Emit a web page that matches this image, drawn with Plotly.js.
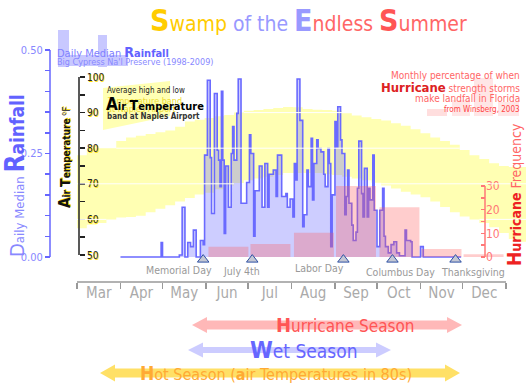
<!DOCTYPE html>
<html><head><meta charset="utf-8">
<script src="https://cdn.plot.ly/plotly-3.0.1.min.js"></script>
<style>html,body{margin:0;padding:0;background:#fff}#chart{width:526px;height:386px}</style>
</head><body><div id="chart"></div>
<script>
// ---------------- DATA ----------------
const monthNames = ['Mar','Apr','May','Jun','Jul','Aug','Sep','Oct','Nov','Dec'];
const monthStarts = ['2009-03-01','2009-04-01','2009-05-01','2009-06-01','2009-07-01','2009-08-01','2009-09-01','2009-10-01','2009-11-01','2009-12-01','2010-01-01'];

const tempDates = ['2009-03-01','2009-03-08','2009-03-15','2009-03-22','2009-03-29','2009-04-05','2009-04-12','2009-04-19','2009-04-26','2009-05-03','2009-05-10','2009-05-17','2009-05-24','2009-05-31','2009-06-07','2009-06-14','2009-06-21','2009-06-28','2009-07-05','2009-07-12','2009-07-19','2009-07-26','2009-08-02','2009-08-09','2009-08-16','2009-08-23','2009-08-30','2009-09-06','2009-09-13','2009-09-20','2009-09-27','2009-10-04','2009-10-11','2009-10-18','2009-10-25','2009-11-01','2009-11-08','2009-11-15','2009-11-22','2009-11-29','2009-12-06','2009-12-13','2009-12-20','2009-12-27','2010-01-03','2010-01-10','2010-01-17'];
const tempHigh = [78,80,80,80,82, 83,83.5,84,84.5, 85,86,87.5,88,88.5, 89,89.3,90,90.5, 90.7,91,91.3,91.6, 91.5,91,90.8,90.7,90.5, 89.8,89.2,88.7,88.2, 87.8,87,86.3,85.3, 84.2,83,82,81,79.5, 78,77,75.8,75, 74.7,74.7,74.7];
const tempLow  = [57.5,58.5,59,60,60.5, 60.7,61,62,63, 64,65,66,67,67.5, 68.5,69.5,70.2,71, 71.5,72,72.5,73, 73,73,73,72.7,72.5, 72,71.5,71,70.3, 69.5,68.7,67.8,67, 66.2,65,63.5,62,60.8, 60,59,57.8,56.2, 54.5,53.7,53.7];

const rainDates = ['2009-04-01','2009-04-30','2009-05-01','2009-05-13','2009-05-15','2009-05-17','2009-05-19','2009-05-21','2009-05-23','2009-05-25','2009-05-28','2009-05-30','2009-05-31','2009-06-02','2009-06-04','2009-06-05','2009-06-07','2009-06-09','2009-06-10','2009-06-11','2009-06-12','2009-06-13','2009-06-14','2009-06-15','2009-06-17','2009-06-19','2009-06-20','2009-06-21','2009-06-23','2009-06-24','2009-06-26','2009-06-30','2009-07-02','2009-07-03','2009-07-05','2009-07-06','2009-07-09','2009-07-11','2009-07-13','2009-07-15','2009-07-16','2009-07-19','2009-07-21','2009-07-22','2009-07-25','2009-07-28','2009-07-29','2009-07-31','2009-08-02','2009-08-03','2009-08-04','2009-08-05','2009-08-07','2009-08-09','2009-08-10','2009-08-12','2009-08-13','2009-08-15','2009-08-16','2009-08-17','2009-08-19','2009-08-20','2009-08-22','2009-08-24','2009-08-25','2009-08-27','2009-08-28','2009-08-29','2009-08-30','2009-09-01','2009-09-02','2009-09-03','2009-09-05','2009-09-06','2009-09-08','2009-09-09','2009-09-10','2009-09-11','2009-09-13','2009-09-14','2009-09-16','2009-09-17','2009-09-18','2009-09-20','2009-09-21','2009-09-22','2009-09-24','2009-09-25','2009-09-26','2009-09-28','2009-09-29','2009-10-01','2009-10-03','2009-10-05','2009-10-06','2009-10-07','2009-10-09','2009-10-11','2009-10-13','2009-10-15','2009-10-17','2009-10-21','2009-10-22','2009-10-25','2009-10-26','2009-11-01','2009-11-03','2009-11-30'];
const rainValues = [0,0.035,0,0.005,0.12,0,0.035,0.025,0.065,0,0.04,0.03,0.246,0.427,0.24,0.105,0.395,0.258,0.234,0.17,0.40,0.234,0.057,0.22,0.12,0.25,0.315,0.234,0.347,0.43,0.13,0.18,0.295,0.25,0.05,0.16,0.22,0.12,0.226,0.12,0.2,0.21,0.146,0.246,0.146,0.153,0.12,0.14,0.097,0.226,0.186,0.43,0.33,0.073,0.102,0.21,0.17,0.287,0.138,0.226,0.283,0.262,0.254,0.2,0.17,0.262,0.226,0.025,0.15,0.327,0.266,0.363,0.283,0.25,0.102,0.146,0.21,0.13,0.077,0.04,0.06,0.166,0.28,0.153,0.097,0.214,0.097,0.166,0.138,0.246,0.113,0.025,0.113,0.166,0.05,0.025,0.01,0.03,0.037,0.01,0.003,0.065,0.04,0.037,0,0.025,0,0];

const hurricaneMonths = ['2009-06-17','2009-07-17','2009-08-17','2009-09-16','2009-10-17','2009-11-16','2009-12-16'];
const hurricanePct = [4.3,5.5,10.2,30,21,3.4,1.2];

const holidayNames = ['Memorial Day','July 4th','Labor Day','Columbus Day','Thanksgiving'];
const holidayDates = ['2009-05-30','2009-07-04','2009-09-07','2009-10-12','2009-11-26'];

const rainTicks = [0,0.05,0.1,0.15,0.2,0.25,0.3,0.35,0.4,0.45,0.5];
const rainTickText = ['0.00',' ',' ',' ',' ','0.25',' ',' ',' ',' ','0.50'];
const tempTicks = [50,55,60,65,70,75,80,85,90,95,100];
const tempTickText = ['50',' ','60',' ','70',' ','80',' ','90',' ','100'];
const hurrTicks = [0,5,10,15,20,25,30];
const hurrTickText = ['0',' ','10',' ','20',' ','30'];

// ---------------- LAYOUT HELPERS ----------------
const FONT = '"DejaVu Sans Condensed", "Liberation Sans", Arial, sans-serif';
const W = 526, H = 386;
const px = x => x / W, py = y => 1 - y / H;
const MS = 86400000, BASE = Date.UTC(2009, 2, 1);
const iso = ms => new Date(ms).toISOString().replace('T', ' ').replace('Z', '');
const xRange = [iso(BASE - 54.92 * MS), iso(BASE + 320.26 * MS)];
const monthMids = monthStarts.slice(0, -1).map((s, i) => {
  const a = Date.parse(s), b = Date.parse(monthStarts[i + 1]);
  return iso((a + b) / 2);
});

function ann(x, y, text, size, color, opts) {
  return Object.assign({xref: 'paper', yref: 'paper', x: px(x), y: py(y), text: text,
    showarrow: false, xanchor: 'center', yanchor: 'middle',
    font: {family: FONT, size: size, color: color}}, opts || {});
}
function pathShape(pts, color, layer) {
  const d = 'M ' + pts.map(p => px(p[0]) + ',' + py(p[1])).join(' L ') + ' Z';
  return {type: 'path', xref: 'paper', yref: 'paper', path: d, fillcolor: color, line: {width: 0}, layer: layer || 'above'};
}
function rect(x0, y0, x1, y1, color, layer) {
  return {type: 'rect', xref: 'paper', yref: 'paper', x0: px(x0), x1: px(x1), y0: py(y0), y1: py(y1),
    fillcolor: color, line: {width: 0}, layer: layer || 'below'};
}
function arrow(xl, xr, yc, sh, hh, hl, color) {
  const pts = [[xl, yc], [xl + hl, yc - hh / 2], [xl + hl, yc - sh / 2], [xr - hl, yc - sh / 2], [xr - hl, yc - hh / 2], [xr, yc],
       [xr - hl, yc + hh / 2], [xr - hl, yc + sh / 2], [xl + hl, yc + sh / 2], [xl + hl, yc + hh / 2]];
  return pathShape(pts, color, 'above');
}

// ---------------- TRACES ----------------
const traces = [
  {x: tempDates, y: tempLow, xaxis: 'x', yaxis: 'y', mode: 'lines', line: {width: 0, shape: 'hv', color: 'rgba(0,0,0,0)'}, hoverinfo: 'skip'},
  {x: tempDates, y: tempHigh, xaxis: 'x', yaxis: 'y', mode: 'lines', line: {width: 0, shape: 'hv', color: 'rgba(0,0,0,0)'},
   fill: 'tonexty', fillcolor: '#ffffb3', hoverinfo: 'skip'},
  {x: rainDates, y: rainValues, xaxis: 'x', yaxis: 'y2', mode: 'lines', line: {shape: 'hv', color: '#6a6aff', width: 1.6},
   fill: 'tozeroy', fillcolor: 'rgba(102,102,255,0.33)'},
  {type: 'bar', x: hurricaneMonths, y: hurricanePct, xaxis: 'x', yaxis: 'y3', width: 28.5 * MS,
   marker: {color: 'rgba(255,90,90,0.3)', line: {width: 0}}},
  {x: holidayDates, y: holidayDates.map(() => -1.1), xaxis: 'x', yaxis: 'y3', mode: 'markers',
   marker: {symbol: 'triangle-up', size: 10, color: '#c4c8d4', line: {color: '#2d4fa3', width: 1}}}
];

// ---------------- SHAPES ----------------
const shapes = [];
shapes.push(rect(58, 30, 69, 67, '#c8c8ff'));
shapes.push(rect(98, 35, 107, 67, '#c8c8ff'));
shapes.push(rect(58, 55, 128, 66, '#c8c8ff'));
shapes.push(rect(427, 109, 447, 116, '#ffdede'));
shapes.push(rect(452, 100, 470, 116, '#ffe6e6'));
shapes.push(rect(474, 78, 493, 116, '#ffe6e6'));
shapes.push(rect(498, 102, 519, 116, '#ffe6e6'));
shapes.push(pathShape([[103, 88], [170, 81], [170, 116], [103, 130]], '#ffffb3', 'below'));
[60, 70, 80, 90].forEach(T => {
  let start = null;
  for (let i = 0; i < tempDates.length; i++) {
    const inside = tempLow[i] < T && tempHigh[i] > T && i < tempDates.length - 1;
    if (inside && start === null) start = i;
    if (!inside && start !== null) {
      shapes.push({type: 'line', xref: 'x', yref: 'y', x0: tempDates[start], x1: tempDates[i], y0: T, y1: T,
        line: {color: '#ffffff', width: 1}, layer: 'above'});
      start = null;
    }
  }
});
shapes.push({type: 'line', xref: 'paper', yref: 'y2', x0: px(50), x1: px(50), y0: 0, y1: 0.5, line: {color: '#6666ff', width: 1.5}});
shapes.push({type: 'line', xref: 'paper', yref: 'y', x0: px(79), x1: px(79), y0: 50, y1: 100, line: {color: '#222', width: 1.5}});
shapes.push({type: 'line', xref: 'paper', yref: 'y3', x0: px(485), x1: px(485), y0: 0, y1: 30, line: {color: '#ff7777', width: 1.5}});
shapes.push({type: 'line', xref: 'x', yref: 'paper', x0: monthStarts[0], x1: monthStarts[monthStarts.length - 1], y0: py(282), y1: py(282), line: {color: '#999', width: 1.5}});
shapes.push(arrow(192, 462, 325, 9, 16, 15, '#ffb8b8'));
shapes.push(arrow(188, 391, 350, 6, 15, 15, '#ccccff'));
shapes.push(arrow(100, 460, 373, 9, 17, 15, '#ffe066'));

// ---------------- ANNOTATIONS ----------------
const annotations = [];
annotations.push(ann(308.5, 21,
  '<span style="font-size:30px;color:#ffcc00"><b>S</b></span><span style="color:#ffcc00">wamp</span>' +
  '<span style="color:#9999ff"> of the </span><span style="font-size:30px;color:#9999ff"><b>E</b></span>' +
  '<span style="color:#ff6666">ndless </span><span style="font-size:30px;color:#ff5555"><b>S</b></span>' +
  '<span style="color:#ff6666">ummer</span>', 21, '#ff6666'));
annotations.push(ann(55, 52, 'Daily Median <span style="font-size:14px;color:#6262ff"><b>R</b></span><span style="color:#6262ff"><b>ainfall</b></span>', 11, '#8080ff', {xanchor: 'left'}));
annotations.push(ann(55, 62, "Big Cypress Na'l Preserve (1998-2009)", 9, '#8888ff', {xanchor: 'left'}));
annotations.push(ann(105, 101, 'Temperature band', 9, '#eedd33', {xanchor: 'left'}));
annotations.push(ann(105, 109, 'at Naples Airport', 9, '#eedd33', {xanchor: 'left'}));
annotations.push(ann(105, 91, 'Average high and low', 8, '#222', {xanchor: 'left'}));
annotations.push(ann(104, 104, '<span style="font-size:17px"><b>A</b></span><b>ir </b><span style="font-size:14px"><b>T</b></span><b>emperature</b>', 11, '#000', {xanchor: 'left'}));
annotations.push(ann(105, 117, '<b>band at Naples Airport</b>', 8, '#333', {xanchor: 'left'}));
annotations.push(ann(522, 75, 'Monthly percentage of when', 10, '#ff6666', {xanchor: 'right'}));
annotations.push(ann(522, 87, '<span style="font-size:13px;color:#dd2222"><b>Hurricane</b></span> strength storms', 10, '#ff6666', {xanchor: 'right'}));
annotations.push(ann(522, 98, 'make landfall in Florida', 10, '#ff6666', {xanchor: 'right'}));
annotations.push(ann(522, 109, 'from Winsberg, 2003', 8, '#ff4444', {xanchor: 'right'}));
annotations.push(ann(15, 176, '<span style="font-size:20px">D</span>aily Median <span style="font-size:26px;color:#6262ff"><b>R</b></span><span style="font-size:19px;color:#6262ff"><b>ainfall</b></span>', 13, '#8888ff', {textangle: -90}));
annotations.push(ann(65, 158, '<span style="font-size:15px"><b>A</b></span><b>ir </b><span style="font-size:14px"><b>T</b></span><b>emperature</b> <sup>o</sup>F', 10, '#111',
  {textangle: -90, font: {family: FONT, size: 10, color: '#111', shadow: '1px 1px 0px #ffd800'}}));
annotations.push(ann(514, 195, '<span style="font-size:19px"><b>H</b></span><b>urricane</b><span style="color:#ff6666"> Frequency</span>', 14, '#ee2222', {textangle: -90}));
const holShift = [-24, -11, -24, 8, 17];
const holY = [270, 271, 268, 271.5, 272];
holidayNames.forEach((n, i) => {
  annotations.push({xref: 'x', yref: 'paper', x: holidayDates[i], y: py(holY[i]), xshift: holShift[i], text: n, showarrow: false,
    xanchor: 'center', yanchor: 'middle', font: {family: FONT, size: 10.5, color: '#999'}});
});
annotations.push(ann(345, 325, '<span style="font-size:20px"><b>H</b></span>urricane Season', 17, '#ff5555'));
annotations.push(ann(303.5, 350, '<span style="font-size:23px"><b>W</b></span>et Season', 19, '#6666ff'));
annotations.push(ann(275.5, 373, '<span style="font-size:19px"><b>H</b></span>ot Season (<b>a</b>ir Temperatures in 80s)', 16, '#ffaa33'));

// ---------------- LAYOUT ----------------
const layout = {
  width: W, height: H, margin: {l: 0, r: 0, t: 0, b: 0, autoexpand: false},
  paper_bgcolor: '#fff', plot_bgcolor: 'rgba(0,0,0,0)', showlegend: false, hovermode: false,
  font: {family: FONT},
  xaxis: {type: 'date', range: xRange, anchor: 'free', position: py(282), showgrid: false, zeroline: false, showline: false,
    tickmode: 'array', tickvals: monthMids, ticktext: monthNames, ticks: '',
    tickfont: {family: FONT, size: 15, color: '#aaaaaa'},
    minor: {tickmode: 'array', tickvals: monthStarts, ticks: 'outside', ticklen: 6, tickwidth: 1.5, tickcolor: '#999', showgrid: false}},
  yaxis: {range: [13.20, 121.63], anchor: 'free', position: px(79), side: 'right', showgrid: false, zeroline: false, showline: false,
    tickmode: 'array', tickvals: tempTicks, ticktext: tempTickText, ticks: 'outside', ticklen: 5, tickwidth: 1.5, tickcolor: '#222',
    tickfont: {family: FONT, size: 10, color: '#222', shadow: '1px 1px 0px #ffe000'}},
  yaxis2: {overlaying: 'y', range: [-0.3116, 0.6208], anchor: 'free', position: px(50), side: 'left', showgrid: false, zeroline: false, showline: false,
    tickmode: 'array', tickvals: rainTicks, ticktext: rainTickText, ticks: 'outside', ticklen: 5, tickwidth: 1.5, tickcolor: '#6666ff',
    tickfont: {family: FONT, size: 11, color: '#8888ff'}},
  yaxis3: {overlaying: 'y', range: [-54.51, 108.59], anchor: 'free', position: px(485), side: 'right', showgrid: false, zeroline: false, showline: false,
    tickmode: 'array', tickvals: hurrTicks, ticktext: hurrTickText, ticks: 'inside', ticklen: 4, tickwidth: 1.5, tickcolor: '#ff7777',
    tickfont: {family: FONT, size: 12, color: '#ff7777'}},
  shapes: shapes, annotations: annotations
};

Plotly.newPlot('chart', traces, layout, {staticPlot: true, displayModeBar: false});
</script></body></html>
